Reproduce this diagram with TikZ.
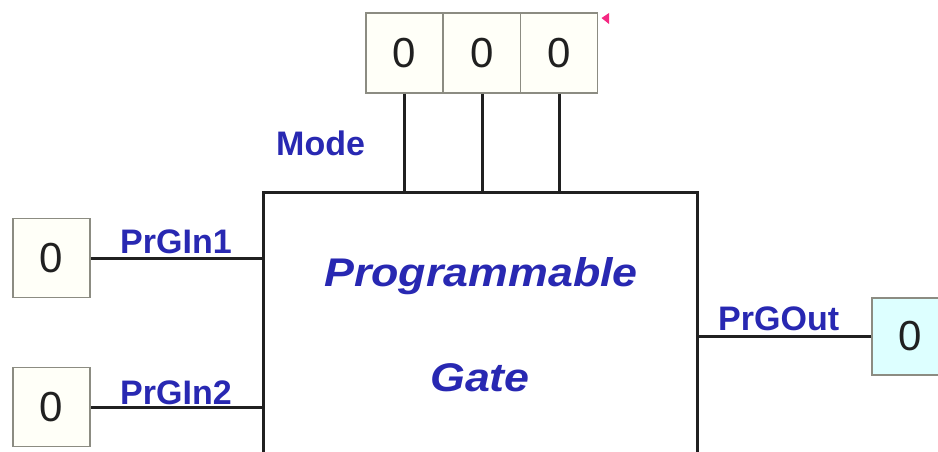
\documentclass[tikz,border=0pt]{standalone}
\usepackage{fontspec}
\setmainfont{Liberation Sans}
\begin{document}
\definecolor{labelblue}{RGB}{40,40,178}
\definecolor{wire}{RGB}{32,32,32}
\definecolor{boxedge}{RGB}{140,140,130}
\definecolor{cellfill}{RGB}{255,255,248}
\definecolor{outfill}{RGB}{221,255,255}
\definecolor{marker}{RGB}{245,40,130}
\begin{tikzpicture}[x=1pt,y=-1pt,
  cell/.style={draw=boxedge,line width=1.5pt,fill=cellfill,minimum width=77pt,minimum height=79pt,
    inner sep=0pt,font=\fontsize{42}{48}\selectfont,text=wire},
  outcell/.style={cell,fill=outfill},
  gatebox/.style={draw=wire,line width=3pt,fill=white,minimum width=434pt,minimum height=300pt,inner sep=0pt},
  wireline/.style={draw=wire,line width=3pt},
  pinlabel/.style={anchor=base west,inner sep=0pt,text=labelblue,font=\fontsize{34}{40}\selectfont\bfseries},
  title/.style={anchor=base,inner sep=0pt,text=labelblue,font=\fontsize{40}{48}\selectfont\bfseries\itshape,xscale=1.12}
]
\useasboundingbox (0,0) rectangle (938,452);
\clip (0,0) rectangle (938,452);
\fill[white] (0,0) rectangle (938,452);

% main gate body (runs past the lower edge)
\node[gatebox] (gate) at (480,342) {};
\node[title] (t1) at (481,286) {Programmable};
\node[title] (t2) at (480,391) {Gate};

% mode selector cells
\node[cell,minimum height=80pt] (m1) at (404.5,53) {0};
\node[cell,minimum height=80pt] (m2) at (482,53) {0};
\node[cell,minimum height=80pt] (m3) at (559,53) {0};
\fill[marker] (601.5,18) -- (609,13) -- (609,24) -- cycle;

% inputs and output
\node[cell] (in1) at (51.5,258) {0};
\node[cell] (in2) at (51.5,407) {0};
\node[outcell,minimum height=77pt] (out) at (910.5,336.5) {0};

% wires
\draw[wireline] (m1.south) -- (m1.south |- gate.north);
\draw[wireline] (m2.south) -- (m2.south |- gate.north);
\draw[wireline] (m3.south) -- (m3.south |- gate.north);
\draw[wireline] (in1.east) -- (in1.east -| gate.west);
\draw[wireline] (in2.east) -- (in2.east -| gate.west);
\draw[wireline] (out.west) -- (out.west -| gate.east);

% pin labels
\node[pinlabel] (lmode) at (276,155) {Mode};
\node[pinlabel] (lin1) at (120,253) {PrGIn1};
\node[pinlabel] (lin2) at (120,404) {PrGIn2};
\node[pinlabel] (lout) at (718,330) {PrGOut};
\end{tikzpicture}
\end{document}
